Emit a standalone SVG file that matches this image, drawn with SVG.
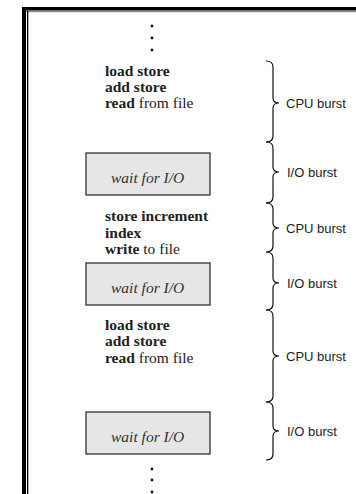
<svg xmlns="http://www.w3.org/2000/svg" width="356" height="494" viewBox="0 0 356 494">
<style>
.code{font-family:"Liberation Serif","Times New Roman",serif;font-size:15.5px;fill:#222}
.b{font-weight:bold}
.it{font-family:"Liberation Serif","Times New Roman",serif;font-size:15.5px;font-style:italic;fill:#333}
.lbl{font-family:"Liberation Sans",Arial,sans-serif;font-size:13px;fill:#222}
.box{fill:#e6e6e6;stroke:#333;stroke-width:1.3}
.brace{fill:none;stroke:#111;stroke-width:1.2}
.dot{fill:#111}
</style>
<rect width="356" height="494" fill="#fff"/>
<g id="frame">
<rect x="22" y="7" width="334" height="3.6" fill="#000"/>
<rect x="26" y="10.6" width="330" height="1.6" fill="#8a8a8a"/>
<rect x="22" y="7" width="4" height="487" fill="#000"/>
<rect x="27" y="11" width="1.3" height="483" fill="#000"/>
</g>
<g id="dots-top">
<circle class="dot" cx="152" cy="26" r="1.4"/>
<circle class="dot" cx="152" cy="38" r="1.4"/>
<circle class="dot" cx="152" cy="50" r="1.4"/>
</g>
<g id="cpu1-code">
<text class="code b" x="105" y="75.5">load store</text>
<text class="code b" x="105" y="92">add store</text>
<text class="code" x="105" y="108"><tspan class="b">read</tspan> from file</text>
</g>
<g id="io1-box">
<rect class="box" x="86" y="153" width="124" height="42"/>
<text class="it" x="111" y="183">wait for I/O</text>
</g>
<g id="cpu2-code">
<text class="code b" x="105" y="221">store increment</text>
<text class="code b" x="105" y="237.5">index</text>
<text class="code" x="105" y="254"><tspan class="b">write</tspan> to file</text>
</g>
<g id="io2-box">
<rect class="box" x="86" y="263" width="124" height="42"/>
<text class="it" x="111" y="293">wait for I/O</text>
</g>
<g id="cpu3-code">
<text class="code b" x="105" y="329.5">load store</text>
<text class="code b" x="105" y="346">add store</text>
<text class="code" x="105" y="362.5"><tspan class="b">read</tspan> from file</text>
</g>
<g id="io3-box">
<rect class="box" x="86" y="412" width="124" height="42"/>
<text class="it" x="111" y="442">wait for I/O</text>
</g>
<g id="dots-bottom">
<circle class="dot" cx="152" cy="469" r="1.4"/>
<circle class="dot" cx="152" cy="480" r="1.4"/>
<circle class="dot" cx="152" cy="492" r="1.4"/>
</g>
<g id="connectors">
<path class="brace" d="M266 61 Q273 61 273 67 L273 98 Q273 103 279 103 Q273 103 273 108 L273 136 Q273 142 266 142"/>
<path class="brace" d="M266 142 Q273 142 273 148 L273 167 Q273 172 279 172 Q273 172 273 177 L273 197 Q273 203 266 203"/>
<path class="brace" d="M266 203 Q273 203 273 209 L273 223 Q273 228 279 228 Q273 228 273 233 L273 246 Q273 252 266 252"/>
<path class="brace" d="M266 252 Q273 252 273 258 L273 278 Q273 283 279 283 Q273 283 273 288 L273 304 Q273 310 266 310"/>
<path class="brace" d="M266 310 Q273 310 273 316 L273 351 Q273 356 279 356 Q273 356 273 361 L273 396 Q273 402 266 402"/>
<path class="brace" d="M266 402 Q273 402 273 408 L273 426 Q273 431 279 431 Q273 431 273 436 L273 454 Q273 460 266 460"/>
</g>
<g id="labels">
<text class="lbl" x="286" y="107.5">CPU burst</text>
<text class="lbl" x="287" y="176.5">I/O burst</text>
<text class="lbl" x="286" y="232.5">CPU burst</text>
<text class="lbl" x="287" y="287.5">I/O burst</text>
<text class="lbl" x="286" y="360.5">CPU burst</text>
<text class="lbl" x="287" y="435.5">I/O burst</text>
</g>
</svg>
